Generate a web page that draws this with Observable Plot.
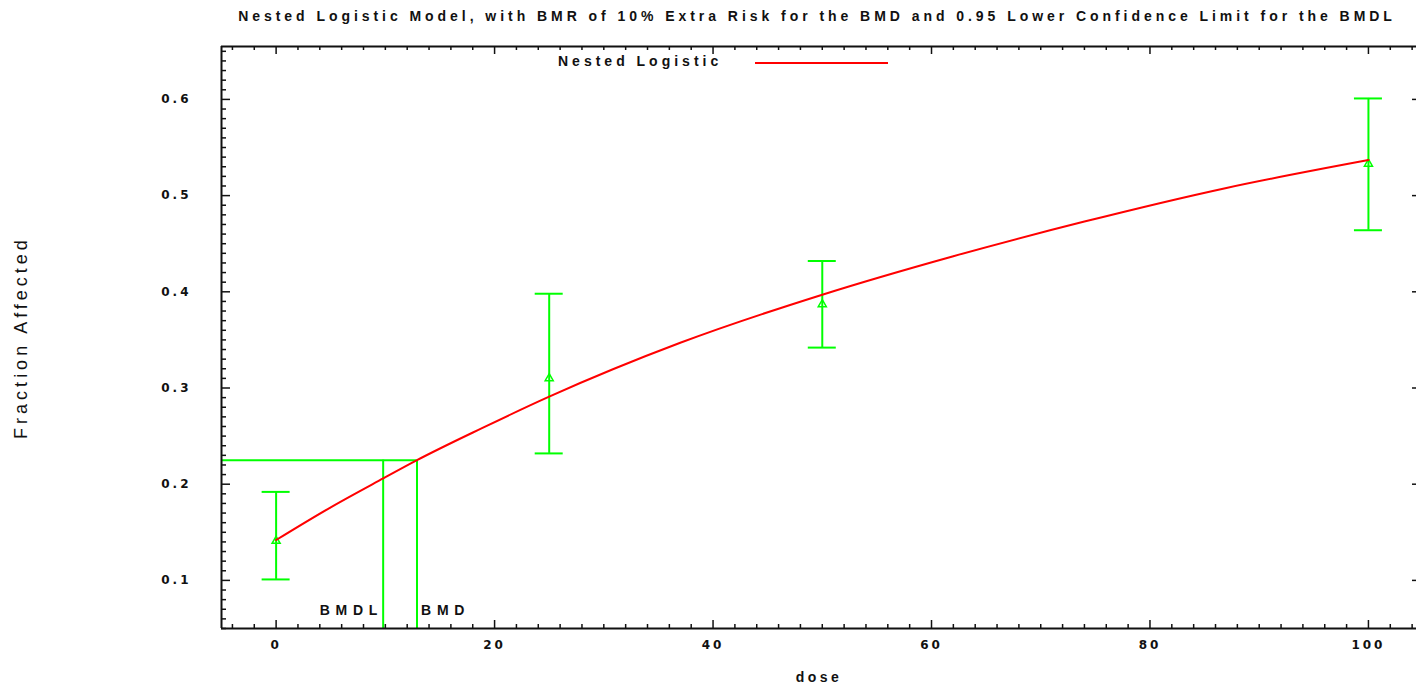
<!DOCTYPE html>
<html>
<head>
<meta charset="utf-8">
<script src="https://cdn.jsdelivr.net/npm/d3@7"></script>
<script src="https://cdn.jsdelivr.net/npm/@observablehq/plot@0.6"></script>
<style>
  html, body { margin: 0; padding: 0; background: #fff; }
  #wrap { position: relative; width: 1416px; height: 687px; overflow: hidden; font-family: "Liberation Sans", Arial, sans-serif; }
  #title { position: absolute; left: 217px; top: 8px; width: 1200px; text-align: center; font-size: 14px; font-weight: bold; letter-spacing: 3.95px; color: #111; white-space: nowrap; }
  #chart { position: absolute; left: 0; top: 34px; }
  #legend-text { position: absolute; left: 558px; top: 53px; font-size: 14px; font-weight: bold; letter-spacing: 4px; color: #111; white-space: nowrap; }
  #legend-line { position: absolute; left: 755px; top: 62px; width: 133px; height: 2px; background: #ff0000; }
  svg [aria-label="x-axis tick label"] text, svg [aria-label="y-axis tick label"] text { font-family: "DejaVu Sans", sans-serif; font-weight: bold; font-size: 12px; letter-spacing: 3px; fill: #111; }
  svg [aria-label="x-axis label"] text { font-weight: bold; font-size: 14px; letter-spacing: 3.5px; fill: #111; }
  svg [aria-label="y-axis label"] text { font-size: 18px; letter-spacing: 4px; fill: #111; }
  svg .bmd-label text { font-weight: bold; font-size: 14px; letter-spacing: 5.75px; }
</style>
</head>
<body>
<div id="wrap">
  <div id="title">Nested Logistic Model, with BMR of 10% Extra Risk for the BMD and 0.95 Lower Confidence Limit for the BMDL</div>
  <div id="chart"></div>
  <div id="legend-text">Nested Logistic</div>
  <div id="legend-line"></div>
</div>
<script>
// Observed data (dose groups) with confidence intervals
const obsDose  = [0, 25, 50, 100];
const obsMean  = [0.141, 0.310, 0.387, 0.533];
const obsLower = [0.101, 0.232, 0.342, 0.464];
const obsUpper = [0.192, 0.398, 0.432, 0.601];

// Fitted Nested Logistic curve
const fitDose  = [0, 5, 9.8, 12.9, 18.8, 25, 37, 50, 62, 74, 87, 100];
const fitValue = [0.142, 0.176, 0.206, 0.225, 0.258, 0.291, 0.347, 0.397, 0.437, 0.473, 0.508, 0.537];

// Benchmark dose annotations
const bmdValue  = 12.9;
const bmdlValue = 9.8;
const bmrLevel  = 0.225;

// Axes
const xDomain = [-5, 104.4];
const yDomain = [0.05, 0.655];
const xTickValues = [0, 20, 40, 60, 80, 100];
const yTickValues = [0.1, 0.2, 0.3, 0.4, 0.5, 0.6];
const xMinorValues = d3.range(-4, 105, 2);
const yMinorValues = d3.range(5, 66, 1).map(v => v / 100);

const obs = obsDose.map((d, i) => ({dose: d, mean: obsMean[i], lo: obsLower[i], hi: obsUpper[i]}));
const fit = fitDose.map((d, i) => ({dose: d, value: fitValue[i]}));
const xMinorOnly = xMinorValues.filter(v => !xTickValues.includes(v));
const yMinorOnly = yMinorValues.filter(v => !yTickValues.some(t => Math.abs(t - v) < 1e-9));

const GREEN = "#00ff00";
const RED = "#ff0000";

const chart = Plot.plot({
  width: 1416,
  height: 653,
  marginTop: 12,
  marginBottom: 59,
  marginLeft: 221,
  marginRight: 0,
  style: {fontFamily: "Liberation Sans, Arial, sans-serif", background: "#fff", overflow: "visible"},
  x: {domain: xDomain},
  y: {domain: yDomain},
  marks: [
    // BMD / BMDL guide lines
    Plot.ruleY([bmrLevel], {y: d => d, x1: xDomain[0], x2: bmdValue, stroke: GREEN, strokeWidth: 2}),
    Plot.ruleX([bmdlValue, bmdValue], {x: d => d, y1: yDomain[0], y2: bmrLevel, stroke: GREEN, strokeWidth: 2}),
    Plot.text([bmdlValue], {x: d => d, y: yDomain[0], text: () => "BMDL", textAnchor: "end", dx: 0, dy: -18, className: "bmd-label", fill: "#111"}),
    Plot.text([bmdValue], {x: d => d, y: yDomain[0], text: () => "BMD", textAnchor: "start", dx: 4, dy: -18, className: "bmd-label", fill: "#111"}),
    // Error bars
    Plot.ruleX(obs, {x: "dose", y1: "lo", y2: "hi", stroke: GREEN, strokeWidth: 2}),
    Plot.ruleY(obs, {y: "lo", x1: "dose", x2: "dose", insetLeft: -14, insetRight: -14, stroke: GREEN, strokeWidth: 2}),
    Plot.ruleY(obs, {y: "hi", x1: "dose", x2: "dose", insetLeft: -14, insetRight: -14, stroke: GREEN, strokeWidth: 2}),
    Plot.dot(obs, {x: "dose", y: "mean", symbol: "triangle", r: 3, stroke: GREEN, strokeWidth: 1.5, fill: "none"}),
    // Fitted curve
    Plot.line(fit, {x: "dose", y: "value", stroke: RED, strokeWidth: 2, curve: "monotone-x"}),
    // Frame
    Plot.ruleX([xDomain[0]], {x: d => d, stroke: "#111", strokeWidth: 2}),
    Plot.ruleY([yDomain[0], yDomain[1]], {y: d => d, stroke: "#111", strokeWidth: 2}),
    // Inward ticks: bottom
    Plot.ruleX(xTickValues, {x: d => d, y1: yDomain[0], y2: yDomain[0], insetTop: -8, stroke: "#111", strokeWidth: 1.5}),
    Plot.ruleX(xMinorOnly, {x: d => d, y1: yDomain[0], y2: yDomain[0], insetTop: -4, stroke: "#111", strokeWidth: 1.5}),
    // top
    Plot.ruleX(xTickValues, {x: d => d, y1: yDomain[1], y2: yDomain[1], insetBottom: -8, stroke: "#111", strokeWidth: 1.5}),
    Plot.ruleX(xMinorOnly, {x: d => d, y1: yDomain[1], y2: yDomain[1], insetBottom: -4, stroke: "#111", strokeWidth: 1.5}),
    // left
    Plot.ruleY(yTickValues, {y: d => d, x1: xDomain[0], x2: xDomain[0], insetRight: -9, stroke: "#111", strokeWidth: 1.5}),
    Plot.ruleY(yMinorOnly, {y: d => d, x1: xDomain[0], x2: xDomain[0], insetRight: -5, stroke: "#111", strokeWidth: 1.5}),
    // right (frame edge lies just beyond the picture)
    Plot.ruleY(yTickValues, {y: d => d, x1: xDomain[1], x2: xDomain[1], insetLeft: -4, stroke: "#111", strokeWidth: 1.5}),
    // Axis labels
    Plot.axisX({ticks: xTickValues, tickSize: 0, tickPadding: 12, tickFormat: d3.format("d"), label: "dose", labelAnchor: "center", labelOffset: 53, labelArrow: "none"}),
    Plot.axisY({ticks: yTickValues, tickSize: 0, tickPadding: 30, tickFormat: d3.format(".1f"), label: "Fraction Affected", labelAnchor: "center", labelOffset: 207, labelArrow: "none"})
  ]
});
document.getElementById("chart").appendChild(chart);
</script>
</body>
</html>
